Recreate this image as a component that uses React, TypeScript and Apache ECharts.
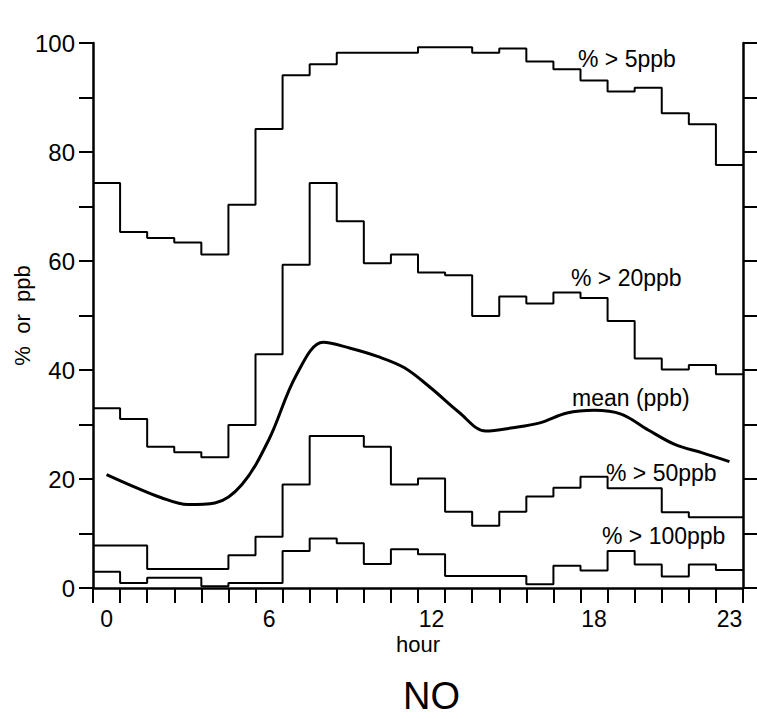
import React, { useEffect, useRef } from "react";
import * as echarts from "echarts";

// ---- data ----
const hourCategories = ["0","1","2","3","4","5","6","7","8","9","10","11","12","13","14","15","16","17","18","19","20","21","22","23"];
const shownHourLabels = [0, 6, 12, 18, 23];
const yTickLabels = [0, 20, 40, 60, 80, 100];

// % of hours with NO > 5 ppb
const pctOver5 = [74.3, 65.3, 64.2, 63.4, 61.2, 70.3, 84.2, 94.1, 96.1, 98.2, 98.2, 98.2, 99.2, 99.2, 98.2, 99.0, 96.6, 95.2, 93.1, 91.1, 91.8, 87.1, 85.1, 77.6];
// % > 20 ppb
const pctOver20 = [33.0, 31.0, 25.9, 24.9, 24.0, 29.9, 42.9, 59.3, 74.3, 67.3, 59.6, 61.2, 57.9, 57.4, 49.9, 53.5, 52.2, 54.2, 53.2, 49.0, 42.1, 40.1, 40.9, 39.2];
// % > 50 ppb
const pctOver50 = [7.8, 7.8, 3.5, 3.5, 3.5, 6.0, 9.4, 19.0, 27.9, 27.9, 25.9, 19.0, 20.1, 14.0, 11.4, 14.0, 16.8, 18.4, 20.4, 18.3, 18.3, 13.9, 13.0, 13.0];
// % > 100 ppb
const pctOver100 = [3.0, 0.9, 1.9, 1.9, 0.3, 0.9, 0.9, 6.8, 9.1, 8.2, 4.4, 7.1, 6.2, 2.2, 2.2, 2.2, 0.7, 4.1, 3.2, 6.8, 4.3, 2.1, 4.3, 3.3];
// hourly mean NO (ppb), at the middle of each hour
const meanPpb = [20.8, 18.6, 16.6, 15.3, 15.6, 19.0, 27.3, 39.0, 45.1, 44.0, 42.5, 40.4, 36.6, 32.3, 28.8, 29.4, 30.3, 32.1, 32.6, 31.9, 29.0, 26.3, 24.8, 23.2];

const seriesLabels = ["% > 5ppb", "% > 20ppb", "mean (ppb)", "% > 50ppb", "% > 100ppb"];
const chartTitle = "NO";
const xName = "hour";
const yName = "%  or  ppb";

const FONT = '"Liberation Sans", Arial, sans-serif';

function stepData(values: number[]) {
  const pts: [number, number][] = values.map((v, i) => [i, v]);
  pts.push([values.length, values[values.length - 1]]);
  return pts;
}

function stepSeries(name: string, values: number[]) {
  return {
    name,
    type: "line",
    xAxisIndex: 1,
    yAxisIndex: 0,
    step: "end",
    symbol: "none",
    data: stepData(values),
    lineStyle: { color: "#000", width: 2 },
    z: 3,
  };
}

export default function App() {
  const ref = useRef<HTMLDivElement>(null);

  useEffect(() => {
    if (!ref.current) return;
    const chart = echarts.init(ref.current, null, { renderer: "svg" });
    const labelStyle = { fill: "#000", font: `23px ${FONT}` };
    const option = {
      animation: false,
      backgroundColor: "#fff",
      grid: { left: 93, right: 14, top: 43, bottom: 131, containLabel: false, outerBoundsMode: "none" },
      xAxis: [
        {
          type: "category",
          data: hourCategories,
          boundaryGap: true,
          position: "bottom",
          name: xName,
          nameLocation: "middle",
          nameGap: 45,
          nameMoveOverlap: false,
          nameTextStyle: { color: "#000", fontSize: 22, fontFamily: FONT },
          axisLine: { show: true, lineStyle: { color: "#000", width: 2.5 } },
          axisTick: { show: true, interval: 0, length: 15, lineStyle: { color: "#000", width: 2 } },
          axisLabel: {
            interval: (idx: number) => shownHourLabels.includes(idx),
            margin: 19,
            color: "#000",
            fontSize: 23,
            fontFamily: FONT,
          },
          splitLine: { show: false },
        },
        {
          type: "value",
          min: 0,
          max: 24,
          show: false,
        },
      ],
      yAxis: [
        {
          type: "value",
          position: "left",
          min: 0,
          max: 100,
          interval: 20,
          name: yName,
          nameLocation: "middle",
          nameGap: 60,
          nameMoveOverlap: false,
          nameRotate: 90,
          nameTextStyle: { color: "#000", fontSize: 22, fontFamily: FONT },
          axisLine: { show: true, lineStyle: { color: "#000", width: 2.5 } },
          axisTick: { show: true, length: 14, lineStyle: { color: "#000", width: 2 } },
          minorTick: { show: true, splitNumber: 2, length: 14, lineStyle: { color: "#000", width: 2 } },
          axisLabel: {
            margin: 18,
            color: "#000",
            fontSize: 24,
            fontFamily: FONT,
            formatter: (v: number) => (yTickLabels.includes(v) ? String(v) : ""),
          },
          splitLine: { show: false },
        },
        {
          type: "value",
          position: "right",
          min: 0,
          max: 100,
          interval: 10,
          axisLine: { show: true, lineStyle: { color: "#000", width: 2.5 } },
          axisTick: { show: true, length: 14, lineStyle: { color: "#000", width: 2 } },
          axisLabel: { show: false },
          splitLine: { show: false },
        },
      ],
      series: [
        stepSeries(seriesLabels[0], pctOver5),
        stepSeries(seriesLabels[1], pctOver20),
        stepSeries(seriesLabels[3], pctOver50),
        stepSeries(seriesLabels[4], pctOver100),
        {
          name: seriesLabels[2],
          type: "line",
          xAxisIndex: 1,
          yAxisIndex: 0,
          smooth: 0.35,
          symbol: "none",
          data: meanPpb.map((v, i) => [i + 0.5, v]),
          lineStyle: { color: "#000", width: 3 },
          z: 4,
        },
      ],
      graphic: [
        { type: "text", left: 578, top: 47, style: { text: seriesLabels[0], ...labelStyle } },
        { type: "text", left: 571, top: 266, style: { text: seriesLabels[1], ...labelStyle } },
        { type: "text", left: 572, top: 386, style: { text: seriesLabels[2], ...labelStyle } },
        { type: "text", left: 606, top: 461, style: { text: seriesLabels[3], ...labelStyle } },
        { type: "text", left: 602, top: 524, style: { text: seriesLabels[4], ...labelStyle } },
        {
          type: "text",
          left: 403,
          top: 677,
          style: { text: chartTitle, fill: "#000", font: `38px ${FONT}` },
        },
      ],
    };
    chart.setOption(option as any);
    return () => chart.dispose();
  }, []);

  return (
    <div
      ref={ref}
      style={{ position: "fixed", left: 0, top: 0, width: 757, height: 719, background: "#fff" }}
    />
  );
}
